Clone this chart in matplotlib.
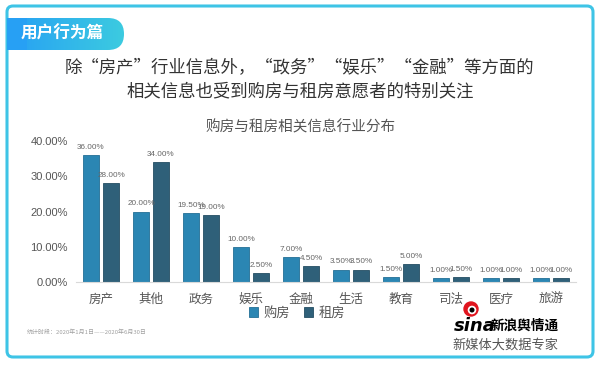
import numpy as np
import matplotlib
matplotlib.use('Agg')
import matplotlib.pyplot as plt
from matplotlib.patches import FancyBboxPatch, Circle
from matplotlib.ticker import FuncFormatter

plt.rcParams['font.family'] = ['Noto Sans CJK SC', 'DejaVu Sans']

# data
cats = ['房产', '其他', '政务', '娱乐', '金融', '生活', '教育', '司法', '医疗', '旅游']
buy = [36.0, 20.0, 19.5, 10.0, 7.0, 3.5, 1.5, 1.0, 1.0, 1.0]
rent = [28.0, 34.0, 19.0, 2.5, 4.5, 3.5, 5.0, 1.5, 1.0, 1.0]
series_names = ['购房', '租房']
yticks = [0, 10, 20, 30, 40]

c_buy = '#2b86b3'
c_rent = '#2f6079'
num_font = ['Liberation Sans', 'Noto Sans CJK SC']

W, H = 600, 365
fig = plt.figure(figsize=(W / 100, H / 100), dpi=100)

# background layer in pixel coords (y down)
bg = fig.add_axes([0, 0, 1, 1], zorder=0)
bg.set_xlim(0, W)
bg.set_ylim(H, 0)
bg.axis('off')

border = FancyBboxPatch((7, 6), 586, 351, boxstyle='round,pad=0,rounding_size=6',
                        facecolor='white', edgecolor='#3ec4e6', linewidth=2.2)
bg.add_patch(border)

# badge with gradient
badge = FancyBboxPatch((7, 18), 117, 32, boxstyle='round,pad=0,rounding_size=16',
                       facecolor='none', edgecolor='none')
bg.add_patch(badge)
grad = np.linspace(0, 1, 256).reshape(1, -1)
cmap = matplotlib.colors.LinearSegmentedColormap.from_list('g', ['#27a0f4', '#3ccbe0'])
im = bg.imshow(grad, extent=(7, 124, 50, 18), cmap=cmap, aspect='auto', zorder=2)
im.set_clip_path(badge)
bg.add_patch(FancyBboxPatch((7, 18), 20, 32, boxstyle='square,pad=0',
                            facecolor='#27a0f4', edgecolor='none', zorder=2))
bg.text(62, 34, '用户行为篇', color='white', fontsize=12, fontweight='bold',
        ha='center', va='center', zorder=3)

bg.text(299, 68, '除“房产”行业信息外，“政务”“娱乐”“金融”等方面的',
        fontsize=12.5, color='#333333', ha='center', va='center')
bg.text(300, 91, '相关信息也受到购房与租房意愿者的特别关注',
        fontsize=12.5, color='#333333', ha='center', va='center')
bg.text(301, 127, '购房与租房相关信息行业分布', fontsize=10.5, color='#555555',
        ha='center', va='center')

bg.text(27, 332, '统计时段：2020年1月1日——2020年6月30日', fontsize=4.3,
        color='#a0a0a0', ha='left', va='center')

# sina logo
bg.add_patch(Circle((471, 309), 7, color='#e0141e', zorder=3))
bg.add_patch(Circle((472, 310), 3.6, color='white', zorder=3))
bg.add_patch(Circle((472, 310), 1.8, color='black', zorder=3))
bg.text(454, 326, 'sina', fontsize=13, fontweight='bold', fontstyle='italic',
        family='DejaVu Sans', color='black', ha='left', va='center', zorder=4)
bg.text(491, 326, '新浪舆情通', fontsize=9.8, fontweight='bold', color='black',
        ha='left', va='center')
bg.text(505, 345, '新媒体大数据专家', fontsize=9.5, color='#555555',
        ha='center', va='center')

# chart
ax = fig.add_axes([76 / W, 1 - 282 / H, 500 / W, 141 / H], zorder=1)
ax.patch.set_alpha(0)
x = np.arange(len(cats))
b1 = ax.bar(x - 0.2, buy, width=0.32, color=c_buy, edgecolor='#236f96',
            linewidth=0.6, label=series_names[0])
b2 = ax.bar(x + 0.2, rent, width=0.32, color=c_rent, edgecolor='#244d63',
            linewidth=0.6, label=series_names[1])
for bars, vals in ((b1, buy), (b2, rent)):
    for r, v in zip(bars, vals):
        ax.annotate(f'{v:.2f}%', (r.get_x() + r.get_width() / 2, v),
                    xytext=(0, 3), textcoords='offset points', ha='center',
                    va='bottom', fontsize=5.9, color='#666666', family=num_font)

ax.set_xlim(-0.5, len(cats) - 0.5)
ax.set_ylim(0, 40)
ax.set_yticks(yticks)
ax.yaxis.set_major_formatter(FuncFormatter(lambda v, p: f'{v:.2f}%'))
ax.set_xticks(x)
ax.set_xticklabels(cats)
ax.tick_params(axis='y', length=0, pad=6, labelsize=8, labelcolor='#555555')
ax.tick_params(axis='x', length=0, pad=8, labelsize=9, labelcolor='#555555')
for lab in ax.get_yticklabels():
    lab.set_family(num_font)
for s in ['top', 'right', 'left']:
    ax.spines[s].set_visible(False)
ax.spines['bottom'].set_color('#d9d9d9')
ax.spines['bottom'].set_linewidth(0.8)

fig.legend(handles=[b1, b2], loc='center', bbox_to_anchor=(297 / W, 1 - 313 / H),
           ncol=2, frameon=False, fontsize=9.5, handlelength=0.7, handleheight=0.7,
           handletextpad=0.4, columnspacing=1.1, labelcolor='#555555')

fig.savefig('out.png', dpi=100)
